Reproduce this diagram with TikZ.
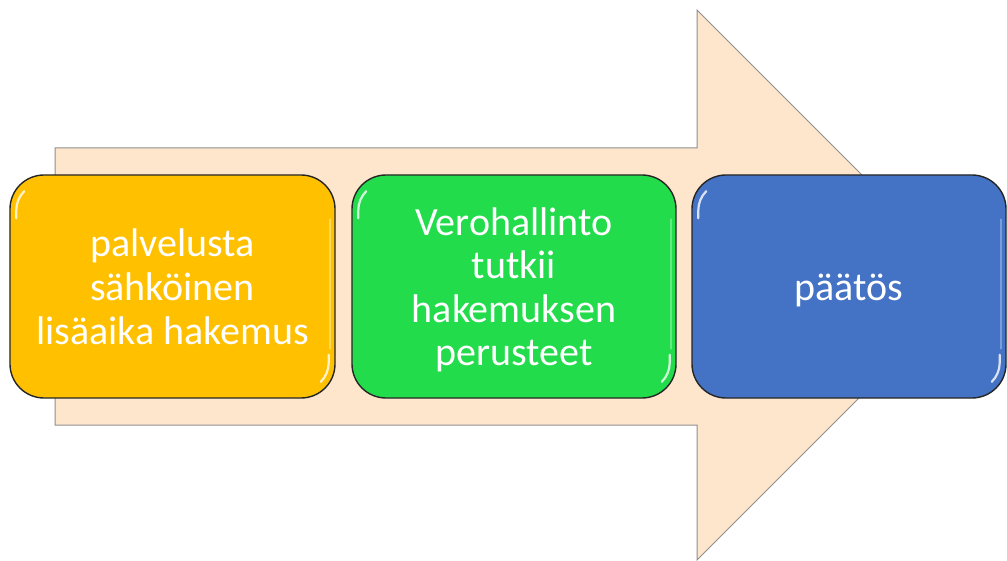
\documentclass[tikz,border=0pt]{standalone}
\usepackage{fontspec}
\setmainfont{Carlito}
\definecolor{peach}{HTML}{FDE6CC}
\definecolor{arrowline}{HTML}{8F8F8F}
\definecolor{orangeC}{HTML}{FFC000}
\definecolor{greenC}{HTML}{22DC4B}
\definecolor{blueC}{HTML}{4472C4}
\newcommand\topst{\rule{0pt}{39bp}}
\newcommand\botst{\rule[-11bp]{0pt}{11bp}}
\begin{document}
\begin{tikzpicture}[x=1bp,y=-1bp,
  box/.style={draw=black!85, line width=1.4bp, rounded corners=34bp,
    minimum height=223bp, text=white, align=center, inner sep=0pt,
    font=\fontsize{40bp}{43.5bp}\selectfont},
  glint/.style={white, opacity=0.8, line width=2.2bp, line cap=round},
  rim/.style={line width=2bp, line cap=round, opacity=0.7}]
\useasboundingbox (0,0) rectangle (1007,561);
% big arrow
\draw[fill=peach, draw=arrowline, line width=1bp, line join=miter]
  (55,148) -- (697,148) -- (697,10) -- (972,285) -- (697,560) -- (697,425) -- (55,425) -- cycle;
% boxes
\node[box, fill=orangeC, minimum width=325bp] (b1) at (172.5,286.5)
  {\topst palvelusta\\sähköinen\\lisäaika hakemus\botst};
\node[box, fill=greenC, minimum width=324bp] (b2) at (514,286.5)
  {\topst Verohallinto\\tutkii\\hakemuksen\\perusteet\botst};
\node[box, fill=blueC, minimum width=314bp] (b3) at (849,286.5)
  {\topst päätös\botst};
% gloss highlights
\foreach \b/\r in {b1/FFE680,b2/7FF09A,b3/8FB0E8}{
  \definecolor{rimc}{HTML}{\r}
  \draw[glint] ([shift={(7,44)}]\b.north west) -- ([shift={(7,36)}]\b.north west)
     arc[start angle=180, end angle=225, radius=27];
  \draw[glint] ([shift={(-7,-44)}]\b.south east) -- ([shift={(-7,-36)}]\b.south east)
     arc[start angle=0, end angle=45, radius=27];
  \draw[rim, rimc] ([shift={(-6,45)}]\b.north east) -- ([shift={(-6,-50)}]\b.south east);
}
\end{tikzpicture}
\end{document}
